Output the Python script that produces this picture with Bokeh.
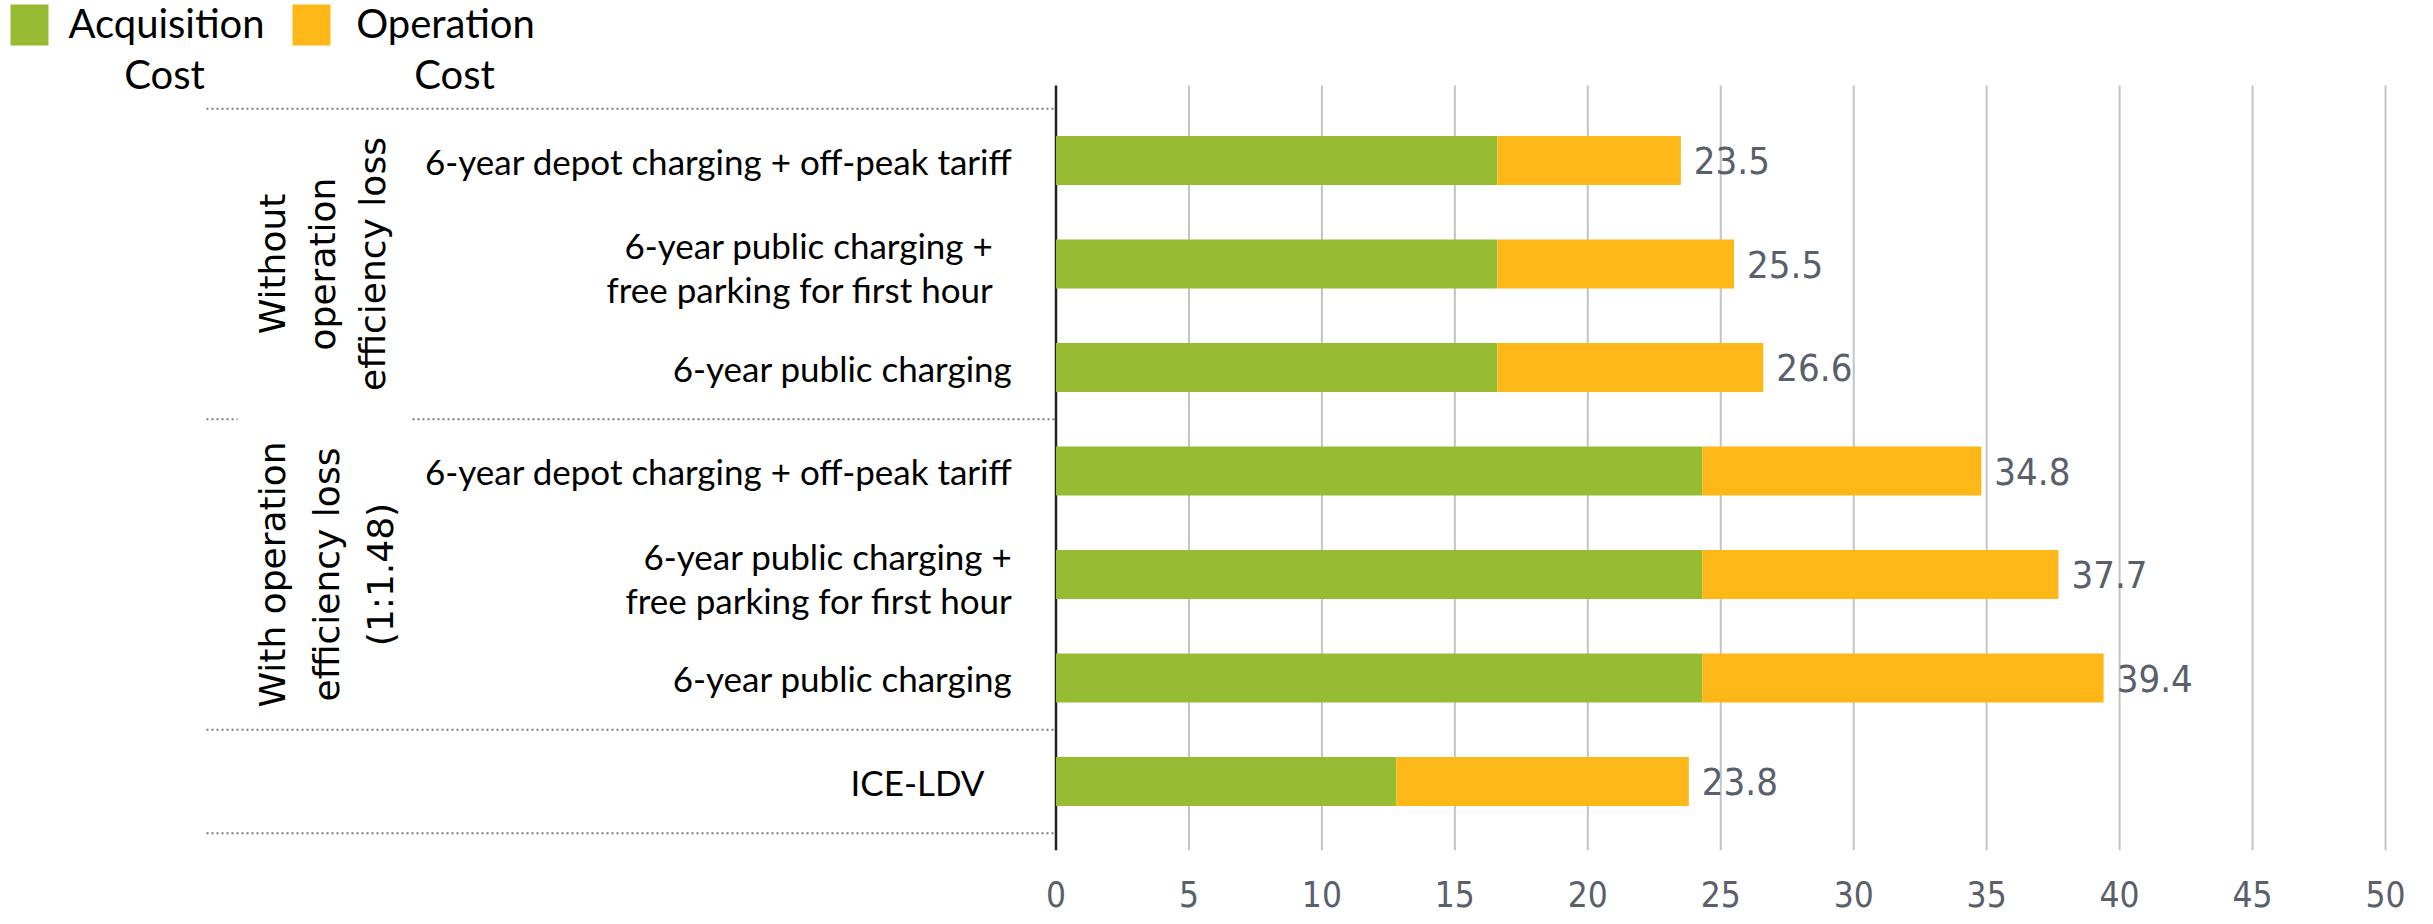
import math
from bokeh.plotting import figure
from bokeh.models import Range1d, FixedTicker
from bokeh.core.properties import value
from bokeh.embed import file_html
from bokeh.resources import INLINE

# ---------------- data ----------------
categories = [
    "6-year depot charging + off-peak tariff",
    "6-year public charging +\nfree parking for first hour",
    "6-year public charging",
    "6-year depot charging + off-peak tariff",
    "6-year public charging +\nfree parking for first hour",
    "6-year public charging",
    "ICE-LDV",
]
acquisition_cost = [16.6, 16.6, 16.6, 24.3, 24.3, 24.3, 12.8]
operation_cost = [6.9, 8.9, 10.0, 10.5, 13.4, 15.1, 11.0]
total_labels = ["23.5", "25.5", "26.6", "34.8", "37.7", "39.4", "23.8"]
groups = ["Without\noperation\nefficiency loss", "With operation\nefficiency loss\n(1:1.48)"]
group_rows = [(0, 2), (3, 5)]
x_ticks = [0, 5, 10, 15, 20, 25, 30, 35, 40, 45, 50]
series_names = ["Acquisition\nCost", "Operation\nCost"]

# ---------------- layout helpers (pixel -> data) ----------------
W, H = 2433, 924
FRAME_H = 850
X0PX, PXU = 1055.5, 26.59
ROW0PX, ROWPX = 160.0, 103.5


def xd(px):
    return (px - X0PX) / PXU


def yd(py):
    return (py - ROW0PX) / ROWPX


GREEN = "#98BB34"
ORANGE = "#FDB817"
NUM_FONT = "DejaVu Sans Condensed"
NUM_COLOR = "#59606c"
rows = list(range(len(categories)))

p = figure(width=W, height=H,
           x_range=Range1d(xd(0), xd(W)),
           y_range=Range1d(yd(FRAME_H), yd(0)),
           output_backend="svg", toolbar_location=None,
           y_axis_location=None,
           min_border_left=0, min_border_right=0, min_border_top=0,
           min_border_bottom=H - FRAME_H)
p.outline_line_color = None
p.xgrid.visible = False
p.ygrid.visible = False
p.background_fill_color = "white"
p.border_fill_color = "white"

# grid lines and zero axis line
grid_top, grid_bot = yd(85), yd(FRAME_H)
p.segment(x0=x_ticks[1:], y0=[grid_top] * (len(x_ticks) - 1),
          x1=x_ticks[1:], y1=[grid_bot] * (len(x_ticks) - 1),
          line_color="#c3c3c3", line_width=2)
p.segment(x0=[0], y0=[grid_top], x1=[0], y1=[grid_bot], line_color="#222222", line_width=2.5)

# dotted separators between groups
bounds = [-0.5] + [g[1] + 0.5 for g in group_rows] + [len(categories) - 0.5]
sx0, sy0, sx1, sy1 = [], [], [], []
for b in bounds:
    if b == group_rows[0][1] + 0.5:
        sx0 += [xd(206), xd(412)]
        sx1 += [xd(237), 0]
        sy0 += [b, b]
        sy1 += [b, b]
    else:
        sx0.append(xd(206)); sx1.append(0); sy0.append(b); sy1.append(b)
p.segment(x0=sx0, y0=sy0, x1=sx1, y1=sy1, line_color="#7a7a7a", line_width=2, line_dash="2 3")

# stacked bars
bar_h = 49 / ROWPX
p.hbar(y=rows, left=0, right=acquisition_cost, height=bar_h, fill_color=GREEN, line_color=None)
right_tot = [a + o for a, o in zip(acquisition_cost, operation_cost)]
p.hbar(y=rows, left=acquisition_cost, right=right_tot, height=bar_h, fill_color=ORANGE, line_color=None)

# value labels
p.text(x=right_tot, y=rows, text=total_labels, x_offset=13,
       text_font=value(NUM_FONT), text_font_size="38px", text_color=NUM_COLOR,
       text_align="left", text_baseline="middle")

# category labels (one text per line)
label_right_px = [1012, 993, 1012, 1012, 1012, 1012, 984]
cx, cy, ct = [], [], []
for r, (lab, rp) in enumerate(zip(categories, label_right_px)):
    lines = lab.split("\n")
    n = len(lines)
    for k, ln in enumerate(lines):
        cx.append(xd(rp))
        cy.append(r + ((k - (n - 1) / 2) * 44 + (3 if n > 1 else 0)) / ROWPX)
        ct.append(ln)
p.text(x=cx, y=cy, text=ct,
       text_font=value("Lato"), text_font_size="35px", text_color="#000000",
       text_align="right", text_baseline="middle")

# group labels (rotated, one text per line)
gx_px = [322, 326]
gspace = [50, 54]
gx, gy, gt = [], [], []
for g, (lab, (a, b)) in enumerate(zip(groups, group_rows)):
    lines = lab.split("\n")
    n = len(lines)
    for k, ln in enumerate(lines):
        gx.append(xd(gx_px[g] + (k - (n - 1) / 2) * gspace[g]))
        gy.append((a + b) / 2)
        gt.append(ln)
p.text(x=gx, y=gy, text=gt, angle=math.pi / 2,
       text_font=value("DejaVu Sans"), text_font_size="36px", text_color="#000000",
       text_align="center", text_baseline="middle")

# legend
sq_left = [10, 292]
sq_w = 38
p.quad(left=[xd(v) for v in sq_left], right=[xd(v + sq_w) for v in sq_left],
       top=[yd(4)] * 2, bottom=[yd(45)] * 2, fill_color=[GREEN, ORANGE], line_color=None)
leg_cx = [[166, 164], [445, 454]]
leg_y = [22, 73]
lx, ly, lt = [], [], []
for s, name in enumerate(series_names):
    for k, ln in enumerate(name.split("\n")):
        lx.append(xd(leg_cx[s][k]))
        ly.append(yd(leg_y[k]))
        lt.append(ln)
p.text(x=lx, y=ly, text=lt,
       text_font=value("Lato"), text_font_size="40px", text_color="#000000",
       text_align="center", text_baseline="middle")

# x axis
ax = p.xaxis[0]
ax.ticker = FixedTicker(ticks=x_ticks)
ax.axis_line_color = None
ax.major_tick_line_color = None
ax.minor_tick_line_color = None
ax.major_tick_out = 0
ax.major_tick_in = 0
ax.major_label_standoff = 30
ax.major_label_text_font = NUM_FONT
ax.major_label_text_font_size = "35px"
ax.major_label_text_color = NUM_COLOR

open("out.html", "w").write(file_html(p, INLINE))
